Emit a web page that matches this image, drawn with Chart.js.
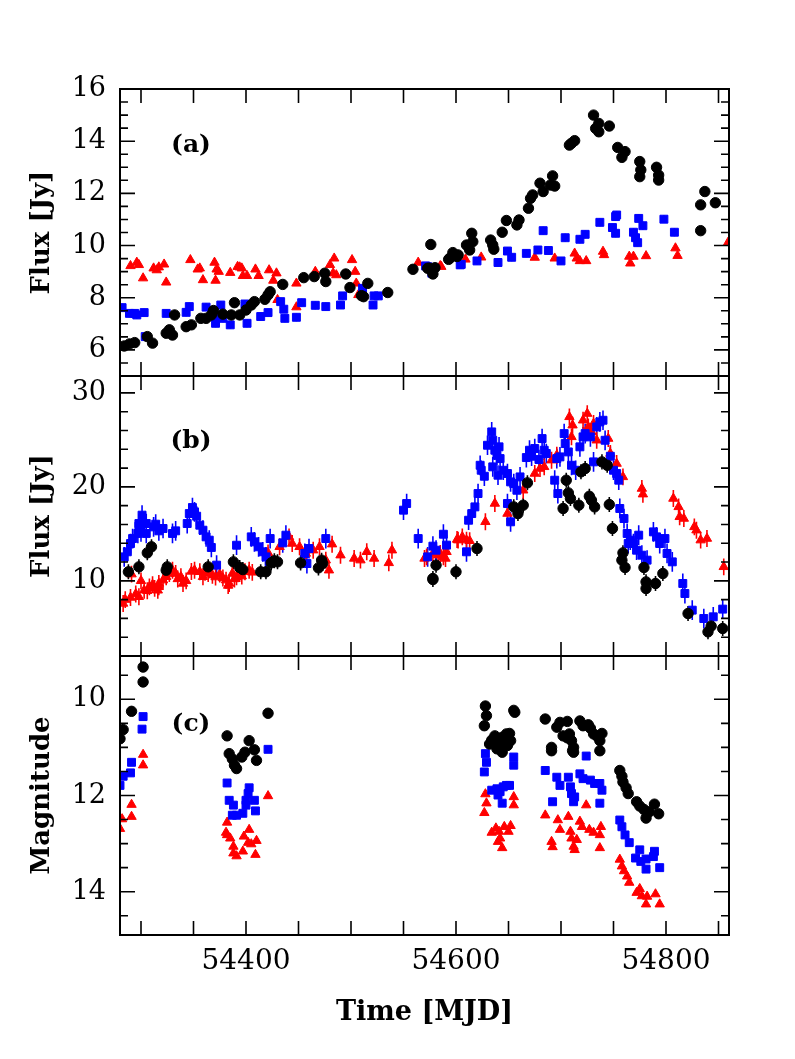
<!DOCTYPE html>
<html>
<head>
<meta charset="utf-8">
<script src="https://cdn.jsdelivr.net/npm/chart.js@4.4.1/dist/chart.umd.min.js"></script>
<style>
  body { margin: 0; background: #fff; }
  canvas { position: absolute; left: 0; top: 0; }
</style>
</head>
<body>
<canvas id="panelA" width="795" height="1059"></canvas>
<canvas id="panelB" width="795" height="1059"></canvas>
<canvas id="panelC" width="795" height="1059"></canvas>
<script>
// ---- panel (a): Flux [Jy] ----
const aBlackT = [54284,54289,54294,54306,54311,54324,54327,54330,54332,54343,54348,54357,54362,54367,54369,54378,54386,54389,54394,54400,54405,54408,54418,54421,54423,54435,54455,54465,54475,54476,54495,54499,54510,54512,54516,54535,54559,54573,54576,54578,54580,54593,54597,54601,54575,54594,54602,54610,54613,54615,54616,54633,54635,54636,54644,54648,54658,54660,54669,54671,54673,54680,54683,54690,54692,54694,54708,54710,54713,54731,54733,54736,54736,54746,54754,54758,54761,54775,54775,54776,54791,54793,54793,54833,54833,54837,54847];
const aBlackF = [6.15,6.23,6.28,6.51,6.26,6.64,6.77,6.57,7.34,6.89,6.96,7.21,7.21,7.34,7.51,7.37,7.34,7.81,7.34,7.53,7.72,7.85,7.94,8.11,8.23,8.51,8.77,8.81,8.94,8.62,8.91,8.39,8.08,8.04,8.55,8.20,9.09,9.13,10.04,8.91,9.15,9.47,9.73,9.58,9.13,9.51,9.64,10.02,9.83,10.47,10.15,10.21,10.02,9.86,10.51,10.96,10.79,10.98,11.43,11.81,11.94,12.39,12.07,12.32,12.67,12.28,13.85,13.92,14.02,15.00,14.49,14.68,14.36,14.58,13.76,13.38,13.60,13.22,12.64,12.90,13.00,12.70,12.51,10.57,11.56,12.07,11.64];

const aBlueT = [54282,54289,54294,54296,54303,54304,54324,54343,54346,54362,54371,54372,54376,54376,54378,54385,54399,54401,54414,54421,54433,54436,54437,54448,54453,54466,54476,54490,54492,54511,54521,54522,54526,54571,54573,54577,54604,54605,54620,54640,54649,54653,54667,54678,54683,54688,54700,54704,54718,54723,54737,54749,54752,54752,54753,54769,54771,54773,54774,54778,54798,54808];
const aBlueF = [7.62,7.40,7.40,7.34,7.43,6.51,7.40,7.44,7.66,7.64,7.02,7.28,7.72,7.34,7.21,6.96,7.76,7.02,7.28,7.43,7.85,7.56,7.21,7.25,7.81,7.71,7.66,7.72,8.07,8.36,7.72,8.07,8.07,9.22,9.19,8.94,9.26,9.28,9.41,9.35,9.79,9.55,9.70,9.83,10.57,9.81,9.41,10.30,10.24,10.43,10.89,10.69,10.47,11.11,11.17,10.51,10.30,10.11,11.04,10.76,11.01,10.51];

const aRedT = [54290,54296,54298,54302,54312,54315,54317,54322,54324,54347,54354,54356,54359,54370,54371,54372,54374,54385,54392,54394,54396,54397,54401,54409,54412,54422,54426,54429,54430,54448,54448,54466,54480,54483,54484,54486,54501,54504,54505,54507,54564,54585,54586,54609,54624,54675,54694,54713,54715,54718,54724,54740,54741,54765,54766,54769,54781,54809,54811,54859];
const aRedF = [9.22,9.35,9.26,8.75,9.13,9.06,9.17,9.28,8.59,9.45,9.09,9.13,8.68,9.35,8.66,9.09,9.00,8.96,9.19,9.17,9.13,8.84,8.84,9.09,8.84,9.06,8.66,8.94,7.92,8.55,7.64,9.00,9.26,8.94,9.51,8.87,9.45,9.00,8.55,8.11,9.35,9.22,9.19,9.47,9.55,9.54,9.51,9.70,9.51,9.41,9.41,9.77,9.64,9.58,9.32,9.58,9.60,9.90,9.61,10.11];

// ---- panel (b): Flux [Jy] ----
const bBlackT = [54288,54298,54306,54310,54324,54325,54364,54388,54394,54397,54414,54419,54424,54427,54430,54452,54469,54472,54473,54578,54578,54581,54600,54620,54655,54659,54664,54668,54702,54705,54707,54709,54717,54719,54723,54727,54729,54732,54739,54744,54746,54749,54758,54759,54761,54779,54781,54781,54790,54797,54821,54840,54843,54854];
const bBlackF = [10.96,11.49,12.98,13.62,11.13,11.49,11.49,12.02,11.42,11.20,10.96,10.96,11.91,12.13,12.02,11.91,11.38,12.20,11.84,10.25,10.14,11.67,10.96,13.44,17.87,17.16,18.05,20.43,17.70,20.71,19.36,18.76,18.05,21.60,21.95,19.00,18.58,17.87,22.66,22.30,18.12,15.57,12.20,12.98,11.42,11.42,9.89,9.18,9.72,10.78,6.52,4.57,5.18,4.93];

const bBlueT = [54284,54287,54290,54292,54297,54298,54298,54300,54301,54305,54305,54312,54314,54317,54321,54330,54333,54344,54346,54349,54351,54353,54356,54359,54362,54365,54367,54372,54391,54405,54408,54412,54416,54419,54422,54423,54435,54438,54456,54458,54460,54476,54550,54553,54564,54573,54578,54581,54588,54591,54610,54612,54615,54618,54621,54623,54624,54627,54630,54634,54635,54637,54639,54641,54642,54635,54640,54645,54649,54652,54655,54658,54652,54649,54661,54667,54670,54672,54675,54679,54682,54684,54686,54694,54697,54696,54699,54703,54704,54707,54710,54714,54718,54721,54723,54728,54731,54734,54737,54740,54742,54747,54750,54753,54755,54756,54760,54763,54764,54766,54769,54772,54774,54777,54782,54788,54791,54794,54799,54801,54806,54816,54818,54825,54836,54845,54854];
const bBlueF = [12.55,13.09,13.97,14.50,15.04,15.82,16.10,15.21,16.99,16.10,15.04,15.74,16.03,15.32,15.57,15.04,15.32,16.10,17.16,17.80,17.34,16.88,15.92,15.39,14.68,14.33,13.55,11.67,13.79,14.68,14.15,13.62,13.09,12.55,12.02,14.50,14.04,14.86,12.91,11.84,13.44,14.50,17.52,18.23,14.50,12.55,13.69,13.26,14.96,13.80,13.09,16.45,17.16,17.87,19.29,22.30,21.77,21.13,24.43,25.85,24.96,23.90,23.37,24.26,23.01,22.13,21.24,21.77,21.42,20.53,20.35,19.64,16.28,18.23,21.06,23.12,23.90,23.26,24.08,22.91,25.14,23.90,23.55,20.71,19.29,23.01,23.19,25.67,24.61,23.72,22.30,21.77,24.26,25.32,25.67,25.32,22.66,26.38,26.91,27.09,24.96,23.26,21.77,21.42,20.71,17.70,16.63,15.04,13.97,14.33,13.97,13.26,14.86,12.73,12.20,15.21,14.68,13.97,14.50,12.91,12.02,9.72,8.65,6.88,5.99,6.17,6.99];

const bRedT = [54283,54285,54290,54291,54295,54298,54300,54303,54306,54308,54311,54313,54316,54317,54317,54321,54324,54327,54330,54333,54335,54338,54340,54343,54348,54351,54356,54359,54361,54364,54368,54371,54375,54378,54381,54383,54384,54387,54389,54391,54394,54396,54399,54403,54406,54421,54432,54441,54444,54451,54457,54464,54470,54476,54479,54482,54490,54503,54509,54515,54522,54536,54539,54570,54572,54578,54583,54585,54588,54590,54591,54601,54602,54606,54610,54613,54628,54637,54649,54664,54675,54680,54684,54691,54696,54708,54710,54711,54721,54725,54726,54729,54731,54734,54745,54747,54753,54759,54777,54778,54807,54812,54813,54817,54827,54829,54833,54839,54855];
const bRedF = [7.59,8.00,8.23,10.71,8.60,8.30,10.00,9.00,8.94,9.36,9.60,9.20,8.99,9.36,9.72,10.07,10.43,10.78,11.13,10.78,10.20,10.43,9.72,10.00,11.00,11.13,10.96,10.43,10.90,10.78,10.60,10.40,10.71,10.30,10.07,9.50,9.72,10.78,10.20,10.43,10.78,10.50,10.96,11.13,10.90,12.98,13.62,14.68,13.97,13.62,12.91,13.26,13.62,12.20,11.13,13.90,12.73,12.38,12.20,13.09,12.38,11.91,13.26,12.38,12.55,12.91,12.73,12.91,12.55,12.38,13.09,14.40,14.33,14.68,14.33,14.26,16.28,18.23,17.16,19.64,21.42,21.95,22.13,22.84,23.37,27.45,25.32,26.56,27.09,27.80,26.38,25.85,26.74,24.96,25.14,23.55,22.48,21.06,19.82,19.22,18.76,17.87,16.81,16.63,15.74,15.39,14.33,14.50,11.49];

// ---- panel (c): Magnitude ----
const cBlackT = [54280,54283,54291,54302,54302,54382,54384,54387,54389,54391,54396,54399,54403,54408,54410,54421,54627,54628,54629,54632,54634,54637,54639,54640,54642,54644,54644,54648,54649,54651,54652,54655,54656,54685,54691,54691,54696,54699,54702,54706,54706,54708,54710,54711,54712,54712,54718,54721,54726,54728,54731,54734,54737,54737,54739,54756,54758,54759,54762,54764,54772,54775,54779,54781,54784,54789,54793];
const cBlackM = [10.82,10.63,10.25,9.64,9.33,10.76,11.13,11.24,11.37,11.44,11.20,11.10,10.86,11.05,11.27,10.29,10.55,10.14,10.34,10.93,10.85,10.76,11.03,10.82,10.96,10.79,11.10,10.72,10.96,10.71,10.86,10.23,10.27,10.41,11.00,11.07,10.58,10.48,10.76,10.46,10.80,10.72,10.86,11.07,11.00,11.10,10.45,10.55,10.53,10.60,10.72,10.76,10.86,11.07,10.71,11.48,11.60,11.72,11.84,11.96,12.13,12.22,12.29,12.47,12.34,12.18,12.38];

const cBlueT = [54280,54283,54290,54291,54301,54302,54382,54384,54387,54388,54391,54397,54400,54400,54402,54403,54408,54409,54421,54627,54628,54629,54634,54639,54640,54642,54644,54645,54648,54651,54655,54655,54685,54692,54696,54699,54707,54709,54710,54712,54713,54718,54721,54724,54728,54732,54737,54737,54739,54756,54758,54761,54765,54771,54775,54776,54781,54781,54788,54789,54794];
const cBlueM = [11.79,11.60,11.53,11.31,10.62,10.36,11.74,12.10,12.41,12.20,12.41,12.37,12.10,12.20,11.96,11.84,12.10,12.32,11.04,11.51,11.13,11.31,11.89,11.86,11.99,11.92,12.16,11.82,11.79,11.79,11.20,11.37,11.48,12.13,11.62,11.79,11.62,11.82,11.96,12.13,12.03,11.55,11.65,11.18,11.68,11.75,11.75,12.16,11.89,12.51,12.65,12.82,12.98,13.30,13.13,13.37,13.32,13.53,13.27,13.16,13.50];

const cRedT = [54280,54282,54291,54291,54302,54302,54381,54382,54382,54385,54388,54388,54391,54397,54398,54402,54403,54405,54409,54410,54421,54627,54628,54629,54634,54638,54640,54641,54642,54644,54646,54650,54652,54655,54655,54685,54691,54692,54697,54699,54707,54709,54710,54712,54713,54715,54718,54720,54724,54727,54731,54737,54737,54738,54756,54758,54760,54763,54765,54772,54775,54777,54781,54782,54790,54794];
const cRedM = [12.69,12.49,12.19,12.44,11.37,11.15,12.77,12.56,12.82,12.89,13.06,13.20,13.26,13.16,12.85,12.98,12.71,13.01,13.23,12.94,12.01,12.36,11.97,12.16,12.77,12.68,12.96,12.75,12.89,13.09,12.65,12.75,12.63,12.03,12.20,12.41,12.96,13.07,12.51,12.71,12.44,12.75,12.89,13.06,13.13,12.92,12.54,12.65,12.20,12.71,12.77,12.82,13.09,12.65,13.33,13.47,13.57,13.68,13.81,14.02,13.94,14.09,14.26,14.10,14.05,14.26];

const xTickLabels = [54400, 54600, 54800];

// ---------------------------------------------------------------
const BLACK = '#000000', BLUE = '#0000ff', RED = '#ff0000';
const serif = 'DejaVu Serif';
const symbolSize = {circle: 5.2, rect: 5.6, triangle: 5.4};

function series(t, v, color, style, err) {
  return {
    data: t.map((d, i) => ({x: d, y: v[i]})),
    showLine: false,
    pointStyle: style,
    pointRadius: symbolSize[style],
    pointBorderWidth: 1,
    backgroundColor: color,
    borderColor: color,
    errBar: err || 0
  };
}

// vertical error bars, drawn behind the symbols
const errorBars = {
  id: 'errorBars',
  beforeDatasetsDraw(chart) {
    const {ctx} = chart;
    const y = chart.scales.y;
    ctx.save();
    ctx.lineWidth = 1.6;
    chart.data.datasets.forEach((ds, i) => {
      if (!ds.errBar) return;
      ctx.strokeStyle = ds.borderColor;
      const meta = chart.getDatasetMeta(i);
      ctx.beginPath();
      meta.data.forEach((pt, j) => {
        const v = ds.data[j].y;
        ctx.moveTo(pt.x, y.getPixelForValue(v - ds.errBar));
        ctx.lineTo(pt.x, y.getPixelForValue(v + ds.errBar));
      });
      ctx.stroke();
    });
    ctx.restore();
  }
};

// box, inward ticks on all four sides, panel letter
const frame = {
  id: 'frame',
  afterDraw(chart, args, o) {
    const {ctx, chartArea: a} = chart;
    const x = chart.scales.x, y = chart.scales.y;
    ctx.save();
    ctx.strokeStyle = '#000';
    ctx.lineWidth = 1.6;
    ctx.beginPath();
    for (let v = Math.ceil(x.min / 50) * 50; v <= x.max; v += 50) {
      const px = x.getPixelForValue(v);
      ctx.moveTo(px, a.top); ctx.lineTo(px, a.top + 14);
      ctx.moveTo(px, a.bottom); ctx.lineTo(px, a.bottom - 14);
    }
    for (let k = Math.ceil(y.min / o.minor); k * o.minor <= y.max + 1e-9; k++) {
      const v = k * o.minor;
      const py = y.getPixelForValue(v);
      const r = v / o.major;
      const len = Math.abs(r - Math.round(r)) < 1e-6 ? 15 : 8;
      ctx.moveTo(a.left, py); ctx.lineTo(a.left + len, py);
      ctx.moveTo(a.right, py); ctx.lineTo(a.right - len, py);
    }
    ctx.stroke();
    ctx.lineWidth = 2;
    ctx.strokeRect(a.left, a.top, a.right - a.left, a.bottom - a.top);
    ctx.fillStyle = '#000';
    ctx.font = 'bold 25px "' + serif + '"';
    ctx.textAlign = 'center';
    ctx.textBaseline = 'middle';
    ctx.fillText(o.label, a.left + 71, a.top + o.labelDy);
    ctx.restore();
  }
};

function panel(id, datasets, opt) {
  const showX = !!opt.showX;
  return new Chart(document.getElementById(id), {
    type: 'scatter',
    data: {datasets: datasets},
    options: {
      responsive: false,
      animation: false,
      devicePixelRatio: 1,
      layout: {padding: {top: opt.top, bottom: opt.bottom, left: 0, right: 66}},
      plugins: {
        legend: {display: false},
        tooltip: {enabled: false},
        frame: {minor: opt.minor, major: opt.major, label: opt.label, labelDy: opt.labelDy}
      },
      scales: {
        x: {
          type: 'linear',
          min: 54280, max: 54860,
          display: showX,
          afterFit(s) { s.height = showX ? 124 : 0; },
          grid: {display: false, drawTicks: false},
          border: {display: false},
          ticks: {
            stepSize: 50,
            includeBounds: false,
            autoSkip: false,
            maxRotation: 0,
            padding: 10,
            color: '#000',
            font: {family: serif, size: 28},
            callback: v => xTickLabels.includes(v) ? String(v) : ''
          },
          title: {
            display: showX,
            text: 'Time [MJD]',
            color: '#000',
            font: {family: serif, size: 27, weight: 'bold'},
            padding: {top: 0, bottom: 30}
          }
        },
        y: {
          type: 'linear',
          min: opt.ymin, max: opt.ymax,
          reverse: !!opt.reverse,
          afterFit(s) { s.width = 120; },
          grid: {display: false, drawTicks: false},
          border: {display: false},
          ticks: {
            stepSize: opt.major,
            includeBounds: false,
            autoSkip: false,
            padding: 14,
            color: '#000',
            font: {family: serif, size: 27},
            callback: v => opt.yLabels.includes(v) ? String(v) : ''
          },
          title: {
            display: true,
            text: opt.title,
            color: '#000',
            font: {family: serif, size: 26, weight: 'bold'},
            padding: {top: 27, bottom: 0}
          }
        }
      }
    },
    plugins: [errorBars, frame]
  });
}

panel('panelA', [
  series(aBlackT, aBlackF, BLACK, 'circle', 0.08),
  series(aBlueT, aBlueF, BLUE, 'rect', 0.15),
  series(aRedT, aRedF, RED, 'triangle', 0.08)
], {top: 89, bottom: 683, ymin: 5, ymax: 16, major: 2, minor: 0.5,
    yLabels: [6, 8, 10, 12, 14, 16], title: 'Flux [Jy]', label: '(a)', labelDy: 56});

panel('panelB', [
  series(bBlackT, bBlackF, BLACK, 'circle', 0.8),
  series(bBlueT, bBlueF, BLUE, 'rect', 1.05),
  series(bRedT, bRedF, RED, 'triangle', 0.9)
], {top: 376, bottom: 403, ymin: 2, ymax: 31.8, major: 10, minor: 2,
    yLabels: [10, 20, 30], title: 'Flux [Jy]', label: '(b)', labelDy: 65});

panel('panelC', [
  series(cBlackT, cBlackM, BLACK, 'circle'),
  series(cBlueT, cBlueM, BLUE, 'rect'),
  series(cRedT, cRedM, RED, 'triangle')
], {top: 656, bottom: 0, ymin: 9.1, ymax: 14.9, reverse: true, major: 2, minor: 0.5,
    yLabels: [10, 12, 14], title: 'Magnitude', label: '(c)', labelDy: 68, showX: true});
</script>
</body>
</html>
